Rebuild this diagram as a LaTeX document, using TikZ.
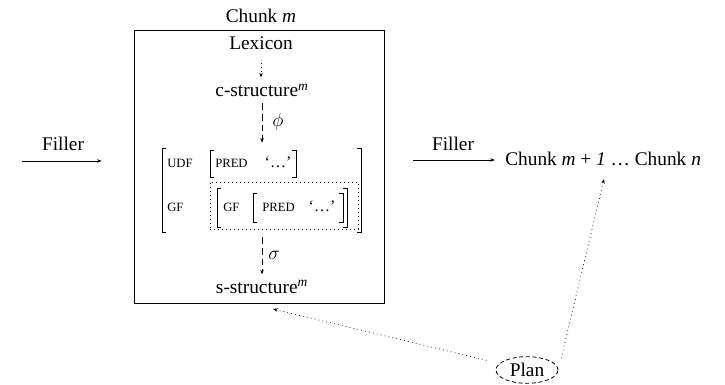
\documentclass[tikz,border=0pt]{standalone}
\usepackage{fontspec}
\setmainfont{Liberation Serif}
\usetikzlibrary{arrows.meta,shapes.geometric}

\begin{document}
\begin{tikzpicture}[x=0.75pt,y=-0.75pt,
  font=\fontsize{14.5}{16.5}\selectfont,
  txt/.style={inner sep=0pt, anchor=base},
  feat/.style={inner sep=0pt, anchor=base west, font=\fontsize{9.5}{11}\selectfont},
  quot/.style={inner sep=0pt, anchor=base, font=\fontsize{12}{14}\selectfont},
  brk/.style={line width=0.5pt},
  tip/.style={-{Stealth[length=3.5pt,width=2.6pt]}, line width=0.5pt},
  dotline/.style={tip, dash pattern=on 0.6pt off 2.4pt},
  dashline/.style={tip, dash pattern=on 5pt off 3pt},
]
\useasboundingbox (0,0) rectangle (725,385);

% chunk m with its lexicon, c-structure, f-structure and s-structure
\node[txt] (chunkm) at (261,23) {Chunk \textit{m}};
\node[draw, line width=0.6pt, inner sep=0pt, minimum width=187.5pt, minimum height=204.75pt] (box) at (259,166.5) {};
\node[txt] (lex) at (261,50) {Lexicon};
\node[txt] (cs) at (262,97) {c-structure\textsuperscript{\textit{m}}};
\node[txt] (ss) at (262,293) {s-structure\textsuperscript{\textit{m}}};

% f-structure area
\node[inner sep=0pt, minimum width=149.25pt, minimum height=63pt] (fs) at (261.5,190) {};

\draw[dotline, shorten <=9.75pt, shorten >=4.5pt] (lex.south) -- (lex.south |- cs.north);
\draw[dashline, shorten <=4.5pt, shorten >=3.75pt] (cs.south) -- (cs.south |- fs.north);
\draw[dashline, shorten <=3.75pt, shorten >=3.75pt] (fs.south -| cs.south) -- (ss.north);
\node[inner sep=0pt] (phi) at (278,122) {$\phi$};
\node[inner sep=0pt] (sigma) at (274,255) {$\sigma$};

% outer attribute-value matrix
\draw[brk] (166,148) -- (162,148) -- (162,232) -- (166,232);
\draw[brk] (357,148) -- (361,148) -- (361,232) -- (357,232);
\node[feat] (udf) at (167,167) {UDF};
\draw[brk] (214,150) -- (210,150) -- (210,177) -- (214,177);
\draw[brk] (292,150) -- (296,150) -- (296,177) -- (292,177);
\node[feat] (pred1) at (215,167) {PRED};
\node[quot] (q1) at (278,167) {‘…’};
\node[feat] (gf1) at (167,211) {GF};

% embedded structure
\node[draw, dash pattern=on 0.6pt off 2.4pt, line width=0.6pt, inner sep=0pt,
      minimum width=111pt, minimum height=35.25pt] (dbox) at (284,205.5) {};
\draw[brk] (221,188) -- (217,188) -- (217,227) -- (221,227);
\draw[brk] (343,188) -- (347,188) -- (347,227) -- (343,227);
\node[feat] (gf2) at (223,211) {GF};
\draw[brk] (257,193) -- (253,193) -- (253,222) -- (257,222);
\draw[brk] (339,193) -- (343,193) -- (343,222) -- (339,222);
\node[feat] (pred2) at (262,211) {PRED};
\node[quot] (q2) at (322,211) {‘…’};

% filler arrows
\coordinate (fl) at (22,161);
\node[txt] (fillerL) at (63,150) {Filler};
\draw[tip, shorten >=24pt] (fl) -- (fl -| box.west);
\coordinate (fr) at (495,160);
\node[txt] (fillerR) at (453,150) {Filler};
\draw[tip, shorten <=21.75pt] (fr -| box.east) -- (fr);
\node[inner sep=0pt, anchor=base west] (next) at (505,165)
  {Chunk \textit{m} + \textit{1} … Chunk \textit{n}};

% plan
\node[draw, ellipse, dash pattern=on 3pt off 2pt, line width=0.6pt, inner sep=0pt,
      minimum width=46.5pt, minimum height=20pt] (plan) at (527,370) {Plan};
\coordinate (ta) at (273,309);
\coordinate (tb) at (604,179);
\draw[dotline, shorten <=10pt] (plan) -- (ta);
\draw[dotline, shorten <=9pt] (plan.east) -- (tb);
\end{tikzpicture}
\end{document}
